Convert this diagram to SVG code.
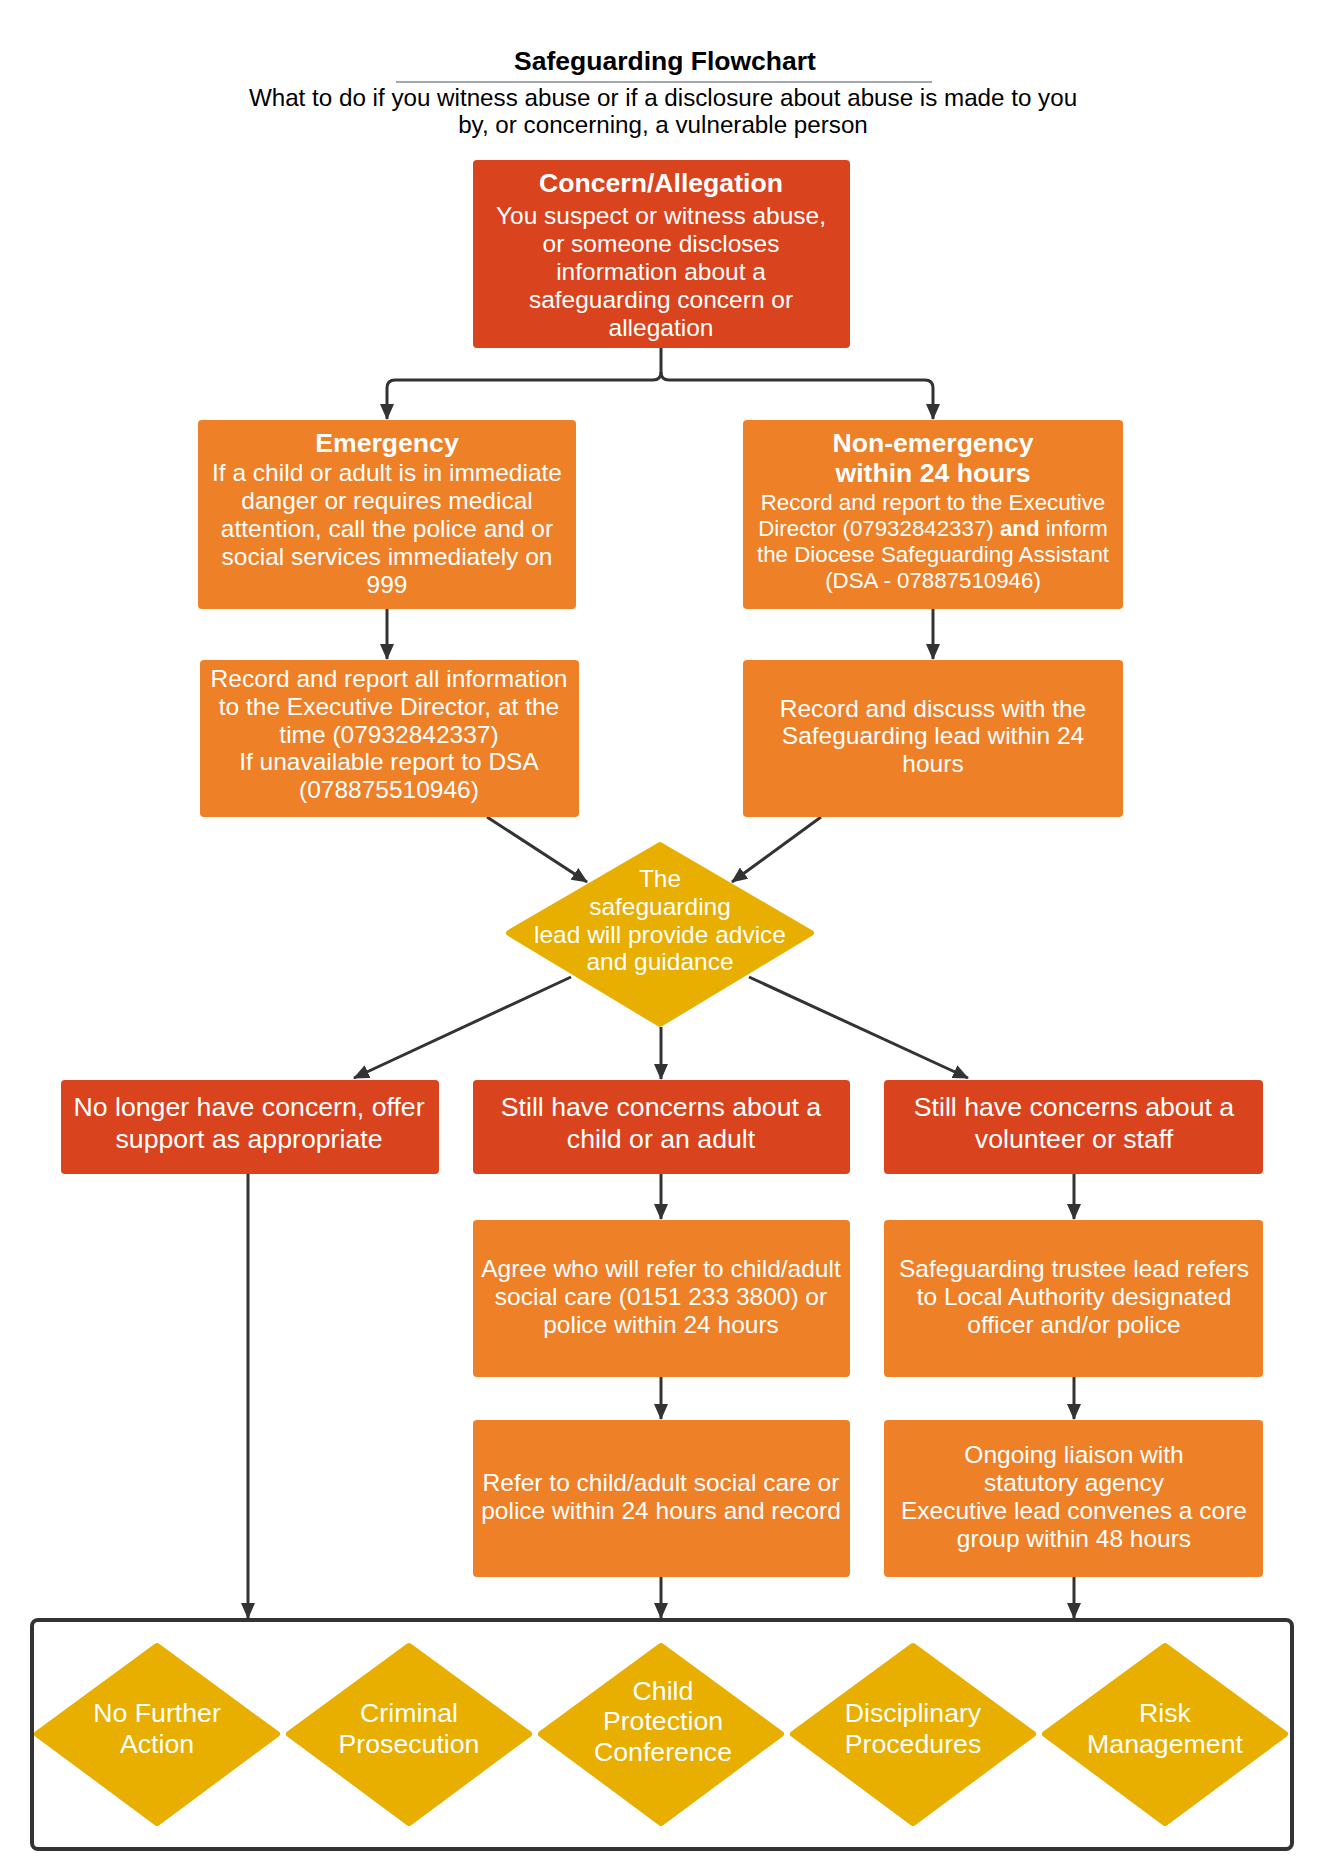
<svg xmlns="http://www.w3.org/2000/svg" width="1322" height="1870" viewBox="0 0 1322 1870">
<defs>
<marker id="arr" viewBox="0 0 16 14" refX="15" refY="7" markerWidth="16" markerHeight="14" markerUnits="userSpaceOnUse" orient="auto">
<path d="M0,0 L16,7 L0,14 Z" fill="#333333"/>
</marker>
</defs>
<style>
text{font-family:"Liberation Sans",Arial,sans-serif;fill:#ffffff;text-anchor:middle}
.red{fill:#D9431D}
.org{fill:#EE8027}
.gold{fill:#E8AE00;stroke:#E8AE00;stroke-width:6;stroke-linejoin:round}
.t{font-weight:bold;font-size:26.6px}
.b{font-size:24.5px}
.s{font-size:22.3px}
.m{font-size:26.7px}
.d{font-size:26.7px}
.c{fill:none;stroke:#333333;stroke-width:3}
.hd{fill:#000000}
</style>
<rect width="1322" height="1870" fill="#ffffff"/>
<g id="header">
<text class="hd" x="665" y="70" font-size="26.5" font-weight="bold">Safeguarding Flowchart</text>
<line x1="396" y1="82" x2="932" y2="82" stroke="#A2A6AE" stroke-width="2"/>
<text class="hd" x="663" y="106" font-size="24.2">What to do if you witness abuse or if a disclosure about abuse is made to you</text>
<text class="hd" x="663" y="133" font-size="24.2">by, or concerning, a vulnerable person</text>
</g>
<g id="connectors">
<path class="c" d="M661 348 V372 Q661 380 653 380 H395 Q387 380 387 388 V419" marker-end="url(#arr)"/>
<path class="c" d="M661 372 Q661 380 669 380 H925 Q933 380 933 388 V419" marker-end="url(#arr)"/>
<path class="c" d="M387 609 V659" marker-end="url(#arr)"/>
<path class="c" d="M933 609 V659" marker-end="url(#arr)"/>
<path class="c" d="M487 817 L587 882" marker-end="url(#arr)"/>
<path class="c" d="M821 817 L732 882" marker-end="url(#arr)"/>
<path class="c" d="M571 977 L354 1078" marker-end="url(#arr)"/>
<path class="c" d="M661 1027 V1079" marker-end="url(#arr)"/>
<path class="c" d="M749 977 L968 1078" marker-end="url(#arr)"/>
<path class="c" d="M661 1174 V1219" marker-end="url(#arr)"/>
<path class="c" d="M1074 1174 V1219" marker-end="url(#arr)"/>
<path class="c" d="M661 1377 V1419" marker-end="url(#arr)"/>
<path class="c" d="M1074 1377 V1419" marker-end="url(#arr)"/>
<path class="c" d="M661 1577 V1618" marker-end="url(#arr)"/>
<path class="c" d="M1074 1577 V1618" marker-end="url(#arr)"/>
<path class="c" d="M248 1174 V1618" marker-end="url(#arr)"/>
</g>
<g id="concern">
<rect class="red" x="473" y="160" width="377" height="188" rx="4"/>
<text class="t" x="661" y="192">Concern/Allegation</text>
<text class="b" x="661" y="224">You suspect or witness abuse,</text>
<text class="b" x="661" y="252">or someone discloses</text>
<text class="b" x="661" y="280">information about a</text>
<text class="b" x="661" y="308">safeguarding concern or</text>
<text class="b" x="661" y="336">allegation</text>
</g>
<g id="emergency">
<rect class="org" x="198" y="420" width="378" height="189" rx="4"/>
<text class="t" x="387" y="452">Emergency</text>
<text class="b" x="387" y="481">If a child or adult is in immediate</text>
<text class="b" x="387" y="509">danger or requires medical</text>
<text class="b" x="387" y="537">attention, call the police and or</text>
<text class="b" x="387" y="565">social services immediately on</text>
<text class="b" x="387" y="593">999</text>
</g>
<g id="nonemergency">
<rect class="org" x="743" y="420" width="380" height="189" rx="4"/>
<text class="t" x="933" y="452">Non-emergency</text>
<text class="t" x="933" y="482">within 24 hours</text>
<text class="s" x="933" y="510">Record and report to the Executive</text>
<text class="s" x="933" y="536">Director (07932842337) <tspan font-weight="bold">and</tspan> inform</text>
<text class="s" x="933" y="562">the Diocese Safeguarding Assistant</text>
<text class="s" x="933" y="588">(DSA - 07887510946)</text>
</g>
<g id="record-left">
<rect class="org" x="200" y="660" width="379" height="157" rx="4"/>
<text class="b" x="389" y="687">Record and report all information</text>
<text class="b" x="389" y="715">to the Executive Director, at the</text>
<text class="b" x="389" y="743">time (07932842337)</text>
<text class="b" x="389" y="770">If unavailable report to DSA</text>
<text class="b" x="389" y="798">(078875510946)</text>
</g>
<g id="record-right">
<rect class="org" x="743" y="660" width="380" height="157" rx="4"/>
<text class="b" x="933" y="717">Record and discuss with the</text>
<text class="b" x="933" y="744">Safeguarding lead within 24</text>
<text class="b" x="933" y="772">hours</text>
</g>
<g id="advice">
<path class="gold" d="M660 845 L811 933 L660 1024 L509 933 Z"/>
<text class="b" x="660" y="887">The</text>
<text class="b" x="660" y="915">safeguarding</text>
<text class="b" x="660" y="943">lead will provide advice</text>
<text class="b" x="660" y="970">and guidance</text>
</g>
<g id="no-concern">
<rect class="red" x="61" y="1080" width="378" height="94" rx="4"/>
<text class="m" x="249" y="1116">No longer have concern, offer</text>
<text class="m" x="249" y="1148">support as appropriate</text>
</g>
<g id="concern-child">
<rect class="red" x="473" y="1080" width="377" height="94" rx="4"/>
<text class="m" x="661" y="1116">Still have concerns about a</text>
<text class="m" x="661" y="1148">child or an adult</text>
</g>
<g id="concern-staff">
<rect class="red" x="884" y="1080" width="379" height="94" rx="4"/>
<text class="m" x="1074" y="1116">Still have concerns about a</text>
<text class="m" x="1074" y="1148">volunteer or staff</text>
</g>
<g id="agree">
<rect class="org" x="473" y="1220" width="377" height="157" rx="4"/>
<text class="b" x="661" y="1277">Agree who will refer to child/adult</text>
<text class="b" x="661" y="1305">social care (0151 233 3800) or</text>
<text class="b" x="661" y="1333">police within 24 hours</text>
</g>
<g id="trustee">
<rect class="org" x="884" y="1220" width="379" height="157" rx="4"/>
<text class="b" x="1074" y="1277">Safeguarding trustee lead refers</text>
<text class="b" x="1074" y="1305">to Local Authority designated</text>
<text class="b" x="1074" y="1333">officer and/or police</text>
</g>
<g id="refer">
<rect class="org" x="473" y="1420" width="377" height="157" rx="4"/>
<text class="b" x="661" y="1491">Refer to child/adult social care or</text>
<text class="b" x="661" y="1519">police within 24 hours and record</text>
</g>
<g id="liaison">
<rect class="org" x="884" y="1420" width="379" height="157" rx="4"/>
<text class="b" x="1074" y="1463">Ongoing liaison with</text>
<text class="b" x="1074" y="1491">statutory agency</text>
<text class="b" x="1074" y="1519">Executive lead convenes a core</text>
<text class="b" x="1074" y="1547">group within 48 hours</text>
</g>
<g id="outcomes">
<rect x="32" y="1620" width="1260" height="229" rx="6" fill="none" stroke="#333333" stroke-width="4"/>
<g id="no-further-action">
<path class="gold" d="M157 1646 L277 1734 L157 1823 L37 1734 Z"/>
<text class="d" x="157" y="1722">No Further</text>
<text class="d" x="157" y="1753">Action</text>
</g>
<g id="criminal-prosecution">
<path class="gold" d="M409 1646 L529 1734 L409 1823 L289 1734 Z"/>
<text class="d" x="409" y="1722">Criminal</text>
<text class="d" x="409" y="1753">Prosecution</text>
</g>
<g id="child-protection-conference">
<path class="gold" d="M661 1646 L781 1734 L661 1823 L541 1734 Z"/>
<text class="d" x="663" y="1700">Child</text>
<text class="d" x="663" y="1730">Protection</text>
<text class="d" x="663" y="1761">Conference</text>
</g>
<g id="disciplinary-procedures">
<path class="gold" d="M913 1646 L1033 1734 L913 1823 L793 1734 Z"/>
<text class="d" x="913" y="1722">Disciplinary</text>
<text class="d" x="913" y="1753">Procedures</text>
</g>
<g id="risk-management">
<path class="gold" d="M1165 1646 L1285 1734 L1165 1823 L1045 1734 Z"/>
<text class="d" x="1165" y="1722">Risk</text>
<text class="d" x="1165" y="1753">Management</text>
</g>
</g>
</svg>
